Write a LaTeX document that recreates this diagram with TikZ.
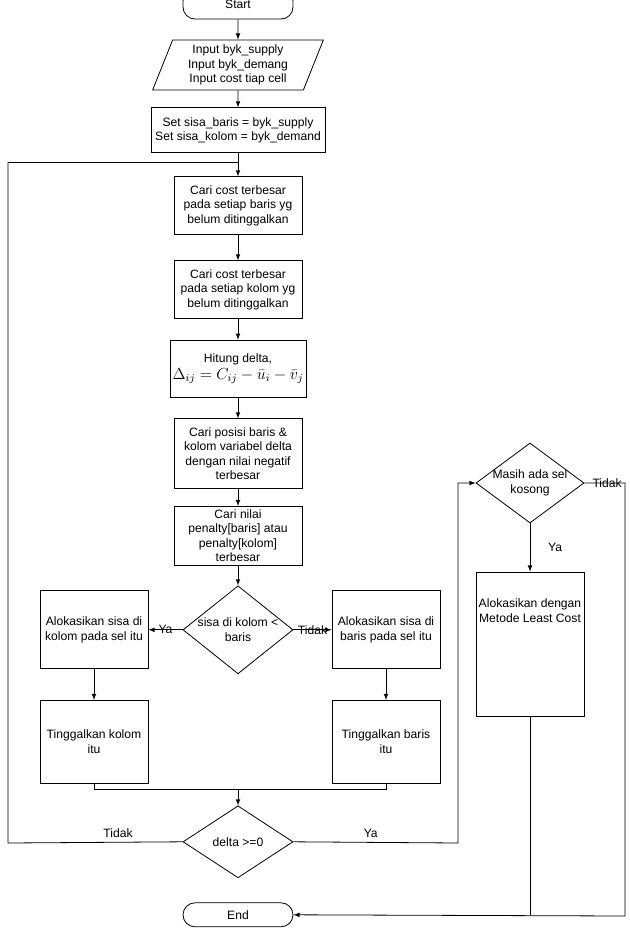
\documentclass[tikz,border=0pt]{standalone}
\usepackage{fontspec}
\setmainfont{Liberation Sans}
\usetikzlibrary{shapes.geometric,positioning}

\begin{document}
\begin{tikzpicture}[x=0.75pt,y=-0.75pt,on grid,>=latex,line width=0.6pt,
    font=\fontsize{9.1}{10.9}\selectfont,
    terminal/.style={rectangle,rounded corners=9pt,draw,minimum width=82.5pt,minimum height=22.5pt},
    io/.style={trapezium,trapezium left angle=70,trapezium right angle=110,trapezium stretches=true,
      draw,minimum width=129pt,minimum height=37.5pt,inner sep=1pt,align=center},
    proc/.style={rectangle,draw,minimum width=96pt,align=center,inner sep=2pt},
    decision/.style={diamond,draw,minimum width=82.5pt,minimum height=66pt,inner sep=0pt}]
  \useasboundingbox (0,0) rectangle (630,933);
  % main column
  \node[terminal] (start) at (238,4) {Start};
  \node[io] (input) [below=45.75pt of start] {Input byk\_supply\\Input byk\_demang\\Input cost tiap cell};
  \node[proc,minimum width=130.5pt,minimum height=33.75pt] (set) [below=49pt of input]
    {Set sisa\_baris = byk\_supply\\Set sisa\_kolom = byk\_demand};
  \node[proc,minimum height=43.5pt] (cariBaris) [below=56.6pt of set]
    {Cari cost terbesar\\pada setiap baris yg\\belum ditinggalkan};
  \node[proc,minimum height=43.5pt] (cariKolom) [below=63pt of cariBaris]
    {Cari cost terbesar\\pada setiap kolom yg\\belum ditinggalkan};
  \node[proc,minimum height=43pt] (hitung) [below=59.25pt of cariKolom]
    {Hitung delta,\\[2pt]{\fontsize{11.5}{13}\selectfont $\Delta_{ij}=C_{ij}-\bar{u}_i-\bar{v}_j$}};
  \node[proc,minimum height=52.5pt] (posisi) [below=63.75pt of hitung]
    {Cari posisi baris \&\\kolom variabel delta\\dengan nilai negatif\\terbesar};
  \node[proc,minimum height=44pt] (penalty) [below=61.5pt of posisi]
    {Cari nilai\\penalty[baris] atau\\penalty[kolom]\\terbesar};
  \node[decision,label={[align=center]center:{sisa di kolom <\\baris}}] (cekSisa) [below=70.5pt of penalty] {};
  \node[proc,minimum width=81pt,minimum height=58.5pt] (alokKolom) [left=108pt of cekSisa]
    {Alokasikan sisa di\\kolom pada sel itu};
  \node[proc,minimum width=81pt,minimum height=58.5pt] (alokBaris) [right=111pt of cekSisa]
    {Alokasikan sisa di\\baris pada sel itu};
  \node[proc,minimum width=81pt,minimum height=62pt] (tinggalKolom) [below=84pt of alokKolom]
    {Tinggalkan kolom\\itu};
  \node[proc,minimum width=81pt,minimum height=62pt] (tinggalBaris) [below=84pt of alokBaris]
    {Tinggalkan baris\\itu};
  \node[decision,minimum height=54pt,label=center:{delta >=0}] (cekDelta) [below=159pt of cekSisa] {};
  \node[terminal,minimum height=18pt] (end) [below=54.75pt of cekDelta] {End};
  % right column
  \node[decision,minimum width=81pt,minimum height=60pt,
    label={[align=center]center:{Masih ada sel\\kosong}}] (cekSel) at (530,483) {};
  \node[proc,minimum width=81pt,minimum height=108pt,
    label={[align=center,yshift=25pt]center:{Alokasikan dengan\\Metode Least Cost}}] (leastCost)
    [below=120.75pt of cekSel] {};
  % corners
  \coordinate[above=10.5pt of cariBaris.north] (loopin);
  \coordinate[above=12pt of cekDelta.north] (merge);
  \coordinate (loopL) at (8,843);
  \coordinate (loopR) at (458,843);
  \coordinate (edgeR) at (625,916);

  \draw[->] (start) -- (input);
  \draw[->] (input) -- (set);
  \draw[->] (set) -- (cariBaris);
  \draw[->] (cariBaris) -- (cariKolom);
  \draw[->] (cariKolom) -- (hitung);
  \draw[->] (hitung) -- (posisi);
  \draw[->] (posisi) -- (penalty);
  \draw[->] (penalty) -- (cekSisa);
  \draw[->] (cekSisa) -- node{Ya} (alokKolom);
  \draw[->] (cekSisa) -- node{Tidak} (alokBaris);
  \draw[->] (alokKolom) -- (tinggalKolom);
  \draw[->] (alokBaris) -- (tinggalBaris);
  \draw (tinggalKolom.south) |- (merge) -| (tinggalBaris.south);
  \draw[->] (merge) -- (cekDelta);
  \draw (cekDelta.west) -- node[above,pos=.37]{Tidak} (loopL) |- (loopin);
  \draw[->] (cekDelta.east) -- node[above,pos=.47]{Ya} (loopR) |- (cekSel.west);
  \draw[->] (cekSel) -- node[right=10pt]{Ya} (leastCost);
  \draw[->] (cekSel.east) -| node[pos=.28]{Tidak} (edgeR) -- (end.east);
  \draw (leastCost.south) -- (leastCost.south |- end.east);
\end{tikzpicture}
\end{document}
